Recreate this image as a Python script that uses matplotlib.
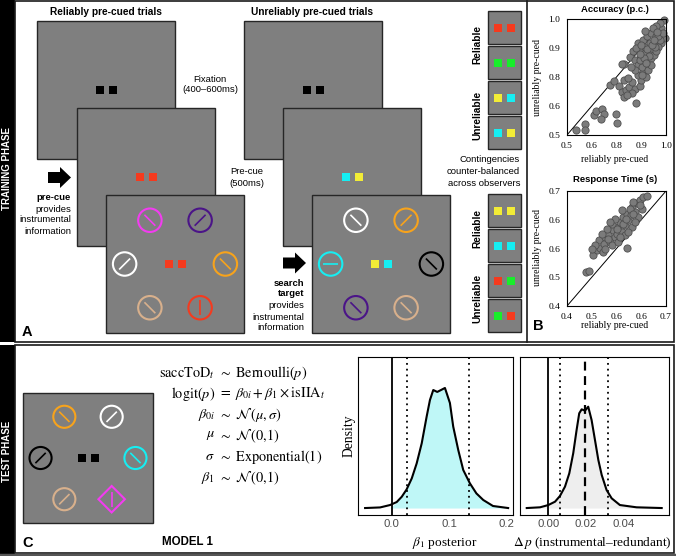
import matplotlib.pyplot as plt
from matplotlib.patches import Rectangle, Circle, Polygon
import numpy as np

plt.rcParams['mathtext.fontset'] = 'stix'

SANS = 'Liberation Sans'
SERIF = 'Liberation Serif'

# ---------------- data ----------------
# Panel B, accuracy (proportion correct)
acc_rel = [0.545, 0.589, 0.589, 0.634, 0.645, 0.679, 0.689, 0.672, 0.746, 0.751,
           0.717, 0.739, 0.763, 0.776, 0.789, 0.796, 0.813, 0.829, 0.843, 0.868,
           0.876, 0.846, 0.786, 0.809, 0.860, 0.885, 0.826, 0.801, 0.901, 0.788,
           0.776, 0.818, 0.843, 0.860, 0.876, 0.893, 0.868, 0.893, 0.910, 0.918,
           0.935, 0.860, 0.885, 0.906, 0.926, 0.951, 0.943, 0.960, 0.977, 0.990,
           0.968, 0.951, 0.993, 0.977, 0.960, 0.926, 0.901, 0.880, 0.910, 0.926,
           0.843, 0.823, 0.834, 0.851, 0.876, 0.896, 0.935, 0.918, 0.940, 0.951,
           0.868, 0.968, 0.943, 0.893, 0.960, 0.985, 0.905, 0.915, 0.930, 0.890,
           0.870, 0.940, 0.955, 0.900, 0.880]
acc_unrel = [0.523, 0.546, 0.520, 0.588, 0.603, 0.610, 0.590, 0.571, 0.592, 0.552,
             0.715, 0.733, 0.711, 0.686, 0.662, 0.694, 0.705, 0.730, 0.697, 0.711,
             0.737, 0.639, 0.737, 0.744, 0.759, 0.773, 0.679, 0.672, 0.751, 0.806,
             0.806, 0.835, 0.824, 0.802, 0.838, 0.816, 0.867, 0.881, 0.853, 0.896,
             0.867, 0.896, 0.910, 0.925, 0.939, 0.925, 0.903, 0.947, 0.961, 0.997,
             0.983, 0.971, 0.918, 0.896, 0.881, 0.831, 0.795, 0.795, 0.780, 0.802,
             0.780, 0.795, 0.860, 0.874, 0.889, 0.947, 0.961, 0.846, 0.846, 0.860,
             0.824, 0.910, 0.881, 0.853, 0.928, 0.939, 0.870, 0.840, 0.890, 0.830,
             0.850, 0.910, 0.945, 0.810, 0.760]
acc_ticks = [0.5, 0.625, 0.75, 0.875, 1.0]
acc_ticklabels = ['0.5', '0.6', '0.8', '0.9', '1.0']

# Panel B, response time (s)
rt_rel = [0.458, 0.467, 0.581, 0.480, 0.490, 0.500, 0.510, 0.497, 0.515, 0.525,
          0.513, 0.530, 0.540, 0.545, 0.556, 0.561, 0.551, 0.566, 0.571, 0.576,
          0.586, 0.581, 0.594, 0.596, 0.606, 0.611, 0.621, 0.626, 0.631, 0.641,
          0.601, 0.616, 0.535, 0.520, 0.505, 0.535, 0.556, 0.576, 0.596, 0.485,
          0.475, 0.566, 0.545, 0.530, 0.591, 0.621, 0.515, 0.561, 0.586, 0.606,
          0.550, 0.570, 0.600, 0.525, 0.580]
rt_unrel = [0.488, 0.492, 0.552, 0.534, 0.545, 0.552, 0.540, 0.571, 0.580, 0.589,
            0.562, 0.567, 0.597, 0.580, 0.606, 0.619, 0.589, 0.593, 0.632, 0.611,
            0.624, 0.641, 0.637, 0.659, 0.646, 0.668, 0.676, 0.654, 0.685, 0.686,
            0.672, 0.632, 0.615, 0.602, 0.589, 0.558, 0.567, 0.584, 0.606, 0.558,
            0.549, 0.650, 0.628, 0.619, 0.654, 0.663, 0.549, 0.580, 0.593, 0.619,
            0.600, 0.615, 0.640, 0.575, 0.628]
rt_ticks = [0.4, 0.475, 0.55, 0.625, 0.7]
rt_ticklabels = ['0.4', '0.5', '0.6', '0.6', '0.7']

# Panel C, posterior of beta_1
beta_x = [-0.0466, -0.0204, -0.003, 0.0087, 0.0175, 0.026, 0.035, 0.0436, 0.0524,
          0.061, 0.0668, 0.0726, 0.0796, 0.093, 0.1017, 0.1075, 0.1163, 0.125,
          0.1366, 0.148, 0.16, 0.177, 0.2035]
beta_dens = [0.0, 0.005, 0.025, 0.05, 0.094, 0.155, 0.247, 0.372, 0.539, 0.761,
             0.9, 0.983, 0.967, 1.0, 0.875, 0.678, 0.483, 0.317, 0.206, 0.122,
             0.067, 0.017, 0.0]
beta_ci = [0.026, 0.135]

# Panel C, posterior of delta p
dp_x = [-0.0115, -0.0044, 0.0, 0.0036, 0.0062, 0.0089, 0.0112, 0.0133, 0.0151,
        0.0165, 0.0178, 0.0196, 0.0213, 0.0231, 0.0249, 0.0267, 0.0285, 0.0311,
        0.0338, 0.0382, 0.0471, 0.0605]
dp_dens = [0.0, 0.006, 0.025, 0.053, 0.1, 0.178, 0.289, 0.456, 0.65, 0.789, 0.822,
           0.811, 0.844, 0.733, 0.567, 0.4, 0.275, 0.15, 0.081, 0.025, 0.006, 0.0]
dp_ci = [0.0062, 0.032]
dp_mean = 0.0198

# stimulus colours and search displays (top-left, top-right, left, right, bottom-left, bottom-right)
cols = {'magenta': '#f23cf0', 'purple': '#4b1488', 'white': '#ffffff', 'orange': '#f7a31c',
        'tan': '#d8b08c', 'red': '#f53a1e', 'cyan': '#16eef2', 'black': '#000000',
        'yellow': '#f2ec36', 'green': '#18ee2a'}
reliable_display = [('magenta', '\\'), ('purple', '/'), ('white', '/'),
                    ('orange', '\\'), ('tan', '\\'), ('red', '|')]
unreliable_display = [('white', '\\'), ('orange', '/'), ('cyan', '-'),
                      ('black', '\\'), ('purple', '\\'), ('tan', '\\')]
test_display = [('orange', '\\'), ('white', '/'), ('black', '/'),
                ('cyan', '\\'), ('tan', '/'), ('magenta', '|')]
contingency_top = [('red', 'red'), ('green', 'green'), ('yellow', 'cyan'), ('cyan', 'yellow')]
contingency_bottom = [('yellow', 'yellow'), ('cyan', 'cyan'), ('red', 'green'), ('green', 'red')]

# ---------------- figure ----------------
W, H = 676, 556
fig = plt.figure(figsize=(W / 100, H / 100), dpi=100)
bg = fig.add_axes([0, 0, 1, 1])
bg.set_xlim(0, W)
bg.set_ylim(H, 0)
bg.axis('off')


def px_axes(x0, y0, x1, y1):
    return fig.add_axes([x0 / W, 1 - y1 / H, (x1 - x0) / W, (y1 - y0) / H])


def screen(x, y, s, z):
    bg.add_patch(Rectangle((x, y), s, s, fc='#7f7f7f', ec='#262626', lw=1, zorder=z))


def cue(cx, cy, c1, c2, z, sq=8, gap=6.5):
    for dx, c in ((-gap, c1), (gap, c2)):
        bg.add_patch(Rectangle((cx + dx - sq / 2, cy - sq / 2), sq, sq,
                               fc=cols[c], ec='none', zorder=z))


def grating(cx, cy, r, col, ori, z, diamond=False):
    c = cols[col]
    if diamond:
        d = r * 1.2
        bg.add_patch(Polygon([(cx, cy - d), (cx + d, cy), (cx, cy + d), (cx - d, cy)],
                             closed=True, fill=False, ec=c, lw=1.5, zorder=z))
    else:
        bg.add_patch(Circle((cx, cy), r, fill=False, ec=c, lw=1.5, zorder=z))
    h = r * 0.66
    k = h / np.sqrt(2)
    seg = {'/': ((cx - k, cx + k), (cy + k, cy - k)),
           '\\': ((cx - k, cx + k), (cy - k, cy + k)),
           '|': ((cx, cx), (cy - h, cy + h)),
           '-': ((cx - h, cx + h), (cy, cy))}[ori]
    bg.plot(seg[0], seg[1], color=c, lw=1.2, zorder=z, solid_capstyle='butt')


def search(x, y, s, items, cue_cols, z, diamond_last=False):
    screen(x, y, s, z)
    cx, cy = x + s / 2, y + s / 2
    offs = [(-0.182, -0.317), (0.182, -0.317), (-0.365, 0), (0.365, 0),
            (-0.182, 0.317), (0.182, 0.317)]
    r = 0.085 * s
    for i, ((ox, oy), (col, ori)) in enumerate(zip(offs, items)):
        grating(cx + ox * s, cy + oy * s, r, col, ori, z + 0.1,
                diamond=(diamond_last and i == 5))
    cue(cx, cy, cue_cols[0], cue_cols[1], z + 0.1)


def arrow(x0, yc, L=23, hh=10.5, sh=5.5, hl=11):
    pts = [(x0, yc - sh), (x0 + L - hl, yc - sh), (x0 + L - hl, yc - hh), (x0 + L, yc),
           (x0 + L - hl, yc + hh), (x0 + L - hl, yc + sh), (x0, yc + sh)]
    bg.add_patch(Polygon(pts, closed=True, fc='black', ec='none', zorder=5))


def txt(x, y, s, size=6.8, ha='center', weight='normal', family=SANS, **kw):
    bg.text(x, y, s, fontsize=size, ha=ha, va='center', fontweight=weight,
            family=family, **kw)


# frames and side strips
bg.add_patch(Rectangle((0, 0), 15, 342, fc='black', ec='none'))
bg.add_patch(Rectangle((0, 345), 15, 211, fc='black', ec='none'))
bg.add_patch(Rectangle((15, 1), 659, 341, fill=False, ec='#1a1a1a', lw=1.2))
bg.plot([527, 527], [1, 342], color='#1a1a1a', lw=1.2)
bg.add_patch(Rectangle((15, 345), 659, 208, fill=False, ec='#1a1a1a', lw=1.2))
bg.plot([0, 676], [555, 555], color='#555555', lw=2.5)
txt(7.5, 168, 'TRAINING PHASE', size=7, weight='bold', color='white', rotation=90)
txt(7.5, 451, 'TEST PHASE', size=7, weight='bold', color='white', rotation=90)

# ---------------- panel A ----------------
txt(106, 12, 'Reliably pre-cued trials', size=7.3, weight='bold')
txt(312, 12, 'Unreliably pre-cued trials', size=7.3, weight='bold')

screen(37, 21, 138, 1)
cue(106, 90, 'black', 'black', 1.1)
screen(77, 108, 138, 2)
cue(146, 177, 'red', 'red', 2.1)
search(106, 195, 138, reliable_display, ('red', 'red'), 3)

screen(244, 21, 138, 1)
cue(313, 90, 'black', 'black', 1.1)
screen(283, 108, 138, 2)
cue(352, 177, 'cyan', 'yellow', 2.1)
search(312, 195, 138, unreliable_display, ('yellow', 'cyan'), 3)

txt(210, 79, 'Fixation')
txt(210, 90, '(400\u2013600ms)')
txt(247, 171, 'Pre-cue')
txt(247, 183, '(500ms)')

arrow(48, 177.5)
txt(71, 197, 'pre-cue', ha='right', weight='bold')
for yy, s in zip([209, 220, 232], ['provides', 'instrumental', 'information']):
    txt(71, yy, s, ha='right')

arrow(283, 263)
txt(304, 283, 'search', ha='right', weight='bold')
txt(304, 294, 'target', ha='right', weight='bold')
for yy, s in zip([306, 317, 328], ['provides', 'instrumental', 'information']):
    txt(304, yy, s, ha='right')

for y0, pairs in ((11, contingency_top), (194, contingency_bottom)):
    for i, (c1, c2) in enumerate(pairs):
        by = y0 + i * 35
        bg.add_patch(Rectangle((488, by), 33, 33, fc='#7f7f7f', ec='#262626', lw=1, zorder=2))
        cue(504.5, by + 16.5, c1, c2, 2.1)
    txt(477, y0 + 34, 'Reliable', size=7.3, weight='bold', rotation=90)
    txt(477, y0 + 104, 'Unreliable', size=7.3, weight='bold', rotation=90)
for yy, s in zip([160, 172, 183], ['Contingencies', 'counter-balanced', 'across observers']):
    txt(520, yy, s, ha='right')

txt(22, 332, 'A', size=10.5, ha='left', weight='bold')


# ---------------- panel B ----------------
def scatter_panel(box, xs, ys, ticks, ticklabels):
    ax = px_axes(*box)
    lo, hi = ticks[0], ticks[-1]
    ax.plot([lo, hi], [lo, hi], color='black', lw=0.7, zorder=1)
    ax.scatter(xs, ys, s=27, fc='#7b7b7b', ec='#4f4f4f', lw=0.6, zorder=2, clip_on=False)
    ax.set_xlim(lo, hi)
    ax.set_ylim(lo, hi)
    ax.set_xticks(ticks)
    ax.set_xticklabels(ticklabels)
    ax.set_yticks(ticks)
    ax.set_yticklabels(ticklabels)
    ax.tick_params(length=0, pad=5, labelsize=6.8)
    for lab in ax.get_xticklabels() + ax.get_yticklabels():
        lab.set_family(SERIF)
    for sp in ax.spines.values():
        sp.set_linewidth(0.8)
    return ax


scatter_panel((567, 19, 666, 135), acc_rel, acc_unrel, acc_ticks, acc_ticklabels)
scatter_panel((567, 191, 666, 306), rt_rel, rt_unrel, rt_ticks, rt_ticklabels)

txt(615, 10, 'Accuracy (p.c.)', weight='bold')
txt(615, 180, 'Response Time (s)', weight='bold')
txt(615, 160, 'reliably pre-cued', size=7, family=SERIF)
txt(615, 325, 'reliably pre-cued', size=7, family=SERIF)
txt(538, 77, 'unreliably pre-cued', size=7, family=SERIF, rotation=90)
txt(538, 248, 'unreliably pre-cued', size=7, family=SERIF, rotation=90)
txt(573, 30, 't(119) = 15.30', size=6.6, ha='left')
txt(573, 43, 'p', size=6.6, ha='left', style='italic')
txt(580, 43, '< 0.0001', size=6.6, ha='left')
txt(660, 281, 't(119) = -25.99', size=6.6, ha='right')
txt(660, 297, '< 0.0001', size=6.6, ha='right')
txt(622, 297, 'p', size=6.6, ha='right', style='italic')
txt(533, 326, 'B', size=10.5, ha='left', weight='bold')

# ---------------- panel C ----------------
search(23, 393, 130, test_display, ('black', 'black'), 3, diamond_last=True)

eq_left = [r'$\mathrm{saccToD}_t$', r'$\mathrm{logit}(p)$', r'$\beta_{0i}$',
           r'$\mu$', r'$\sigma$', r'$\beta_1$']
eq_right = [r'$\sim\ \mathrm{Bernoulli}(p)$', r'$=\ \beta_{0i}+\beta_1\times\mathrm{isIIA}_t$',
            r'$\sim\ \mathcal{N}\,(\mu,\sigma)$', r'$\sim\ \mathcal{N}\,(0{,}1)$',
            r'$\sim\ \mathrm{Exponential}(1)$', r'$\sim\ \mathcal{N}\,(0{,}1)$']
for i, (l, r) in enumerate(zip(eq_left, eq_right)):
    yy = 373 + i * 21
    txt(215, yy, l, size=10.3, ha='right', family=SERIF)
    txt(218, yy, r, size=10.3, ha='left', family=SERIF)

txt(188, 542, 'MODEL 1', size=8.3, weight='bold')
txt(22, 543, 'C', size=10.5, ha='left', weight='bold')

ylim_d = (-0.058, 1.258)


def density_panel(box, xs, ds, ci, xlim, ticks, ticklabels, fill):
    ax = px_axes(*box)
    xs = np.asarray(xs)
    ds = np.asarray(ds)
    ax.fill_between(xs, 0, ds, where=xs >= 0, color=fill, lw=0, interpolate=True)
    ax.plot(xs, ds, color='black', lw=1.5)
    ax.axvline(0, color='black', lw=1.3)
    for c in ci:
        ax.axvline(c, color='black', lw=1.3, ls=(0, (1, 2.2)))
    ax.set_xlim(*xlim)
    ax.set_ylim(*ylim_d)
    ax.set_yticks([])
    ax.set_xticks(ticks)
    ax.set_xticklabels(ticklabels)
    ax.tick_params(length=0, pad=3, labelsize=8.2, labelcolor='#4d4d4d')
    for lab in ax.get_xticklabels():
        lab.set_family(SANS)
    for sp in ax.spines.values():
        sp.set_linewidth(0.8)
    return ax


density_panel((358, 357, 513, 515), beta_x, beta_dens, beta_ci, (-0.059, 0.212),
              [0.0, 0.1, 0.2], ['0.0', '0.1', '0.2'], '#bff7f7')
axd = density_panel((520, 357, 669, 515), dp_x, dp_dens, dp_ci, (-0.0151, 0.0644),
                    [0.0, 0.02, 0.04], ['0.00', '0.02', '0.04'], '#eeeeee')
axd.axvline(dp_mean, color='black', lw=1.6, ls=(0, (4, 2.5)))

txt(349, 436, 'Density', size=9.8, family=SERIF, rotation=90)
txt(445, 543, r'$\beta_1$ posterior', size=9.6, family=SERIF)
txt(592, 543, r'$\Delta\,p$ (instrumental' + '\u2013' + 'redundant)', size=9.6, family=SERIF)
txt(660, 369, r'$\Delta\,p$ > 0:', size=10, ha='right', family=SERIF)
txt(660, 383, '99.8%', size=10, ha='right', weight='bold', family=SERIF)

fig.savefig('out.png', dpi=100)
